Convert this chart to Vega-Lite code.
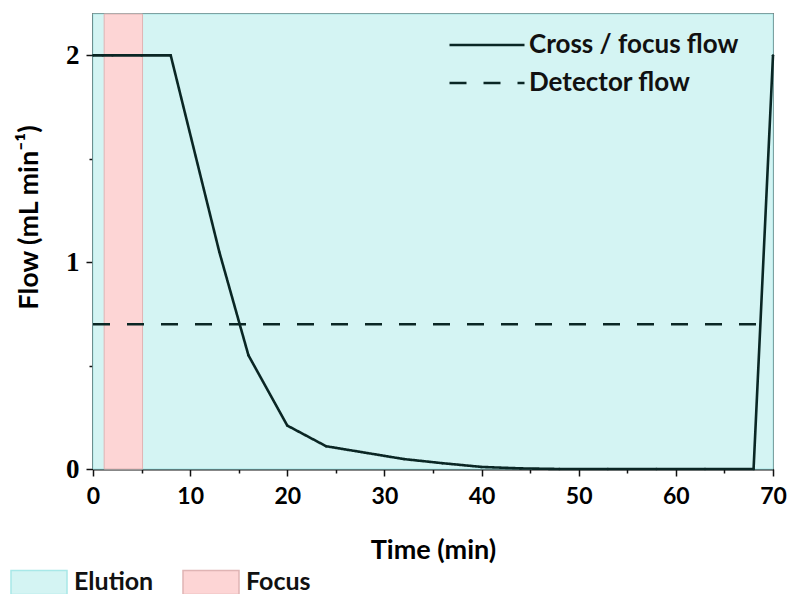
{
  "$schema": "https://vega.github.io/schema/vega-lite/v6.json",
  "width": 680,
  "height": 455,
  "autosize": {"type": "none"},
  "padding": {"left": 93, "top": 14, "right": 16, "bottom": 125},
  "background": "white",
  "config": {
    "view": {"stroke": "#1c2626", "strokeWidth": 1.5},
    "font": "Lato",
    "axis": {"grid": false, "domainColor": "#111111", "domainWidth": 2, "tickColor": "#111111", "tickWidth": 1.5, "labelColor": "#000000", "titleColor": "#000000"}
  },
  "datasets": {
    "regions": [
      {"region": "Elution", "start": 0, "end": 70},
      {"region": "Focus", "start": 1.15, "end": 5.1}
    ],
    "flow": [
      {"t": 0, "f": 2, "series": "Cross / focus flow"},
      {"t": 1, "f": 2, "series": "Cross / focus flow"},
      {"t": 2, "f": 2, "series": "Cross / focus flow"},
      {"t": 5, "f": 2, "series": "Cross / focus flow"},
      {"t": 8, "f": 2, "series": "Cross / focus flow"},
      {"t": 13, "f": 1.05, "series": "Cross / focus flow"},
      {"t": 16, "f": 0.55, "series": "Cross / focus flow"},
      {"t": 20, "f": 0.21, "series": "Cross / focus flow"},
      {"t": 24, "f": 0.11, "series": "Cross / focus flow"},
      {"t": 32, "f": 0.048, "series": "Cross / focus flow"},
      {"t": 36, "f": 0.028, "series": "Cross / focus flow"},
      {"t": 40, "f": 0.01, "series": "Cross / focus flow"},
      {"t": 44, "f": 0.003, "series": "Cross / focus flow"},
      {"t": 48, "f": 0, "series": "Cross / focus flow"},
      {"t": 53, "f": 0, "series": "Cross / focus flow"},
      {"t": 58, "f": 0, "series": "Cross / focus flow"},
      {"t": 63, "f": 0, "series": "Cross / focus flow"},
      {"t": 68, "f": 0, "series": "Cross / focus flow"},
      {"t": 70, "f": 2, "series": "Cross / focus flow"},
      {"t": 0, "f": 0.7, "series": "Detector flow"},
      {"t": 70, "f": 0.7, "series": "Detector flow"}
    ]
  },
  "layer": [
    {
      "data": {"name": "regions"},
      "mark": {"type": "rect", "strokeWidth": 1},
      "encoding": {
        "x": {"field": "start", "type": "quantitative", "scale": {"domain": [0, 70], "nice": false, "zero": false}, "axis": null},
        "x2": {"field": "end"},
        "fill": {
          "field": "region", "type": "nominal",
          "scale": {"domain": ["Elution", "Focus"], "range": ["#d4f4f3", "#fdd5d5"]},
          "legend": {"orient": "none", "direction": "horizontal", "legendX": -83, "legendY": 539, "title": null, "symbolType": "M-1,-0.43L1,-0.43L1,0.43L-1,0.43Z", "symbolSize": 3136, "symbolStrokeWidth": 1.5, "labelFont": "Lato", "labelFontSize": 25, "labelFontWeight": "bold", "labelColor": "#111111", "labelOffset": 6, "labelLimit": 400, "columnPadding": 26, "padding": 0, "symbolOpacity": 1}
        },
        "stroke": {
          "field": "region", "type": "nominal",
          "scale": {"domain": ["Elution", "Focus"], "range": ["#a8e8e8", "#e0b4b4"]},
          "legend": {"orient": "none", "direction": "horizontal", "legendX": -83, "legendY": 539, "title": null, "symbolType": "M-1,-0.43L1,-0.43L1,0.43L-1,0.43Z", "symbolSize": 3136, "symbolStrokeWidth": 1.5, "labelFont": "Lato", "labelFontSize": 25, "labelFontWeight": "bold", "labelColor": "#111111", "labelOffset": 6, "labelLimit": 400, "columnPadding": 26, "padding": 0, "symbolOpacity": 1}
        }
      }
    },
    {
      "data": {"name": "flow"},
      "mark": {"type": "line", "strokeWidth": 2.6, "color": "#0a2624"},
      "encoding": {
        "x": {"field": "t", "type": "quantitative", "scale": {"domain": [0, 70], "nice": false, "zero": false},
          "axis": {"orient": "bottom", "values": [0, 10, 20, 30, 40, 50, 60, 70], "tickSize": 7, "labelFont": "Lato", "labelFontSize": 23, "labelFontWeight": "bold", "labelPadding": 9, "labelFlush": false, "title": "Time (min)", "titleFont": "Lato", "titleFontSize": 27, "titleFontWeight": "bold", "titleBaseline": "alphabetic", "titleX": 340, "titleY": 89}},
        "y": {"field": "f", "type": "quantitative", "scale": {"domain": [0, 2.2], "nice": false},
          "axis": {"orient": "left", "values": [0, 1, 2], "tickSize": 7, "labelFont": "Liberation Serif", "labelFontSize": 27, "labelFontWeight": "bold", "labelPadding": 7, "labelFlush": false, "title": "Flow (mL min⁻¹)", "titleFont": "Lato", "titleFontSize": 27, "titleFontWeight": "bold", "titleAngle": 270, "titleBaseline": "alphabetic", "titleX": -56, "titleY": 203}},
        "strokeDash": {
          "field": "series", "type": "nominal",
          "scale": {"domain": ["Cross / focus flow", "Detector flow"], "range": [[1, 0], [17, 17]]},
          "legend": {"orient": "none", "legendX": 355, "legendY": 12, "title": null, "symbolType": "stroke", "symbolSize": 5625, "symbolStrokeWidth": 2.6, "symbolStrokeColor": "#0a2624", "labelFont": "Lato", "labelFontSize": 26, "labelFontWeight": "bold", "labelColor": "#111111", "labelOffset": 3, "labelLimit": 400, "clipHeight": 38, "rowPadding": 0, "padding": 0}
        }
      }
    },
    {
      "data": {"name": "flow"},
      "transform": [{"filter": "datum.series === 'Cross / focus flow'"}],
      "mark": {"type": "point", "filled": true, "size": 6, "color": "#0a2624", "opacity": 1},
      "encoding": {
        "x": {"field": "t", "type": "quantitative", "axis": {"orient": "bottom", "values": [5, 15, 25, 35, 45, 55, 65], "tickSize": 4, "labels": false, "domain": false, "title": null}},
        "y": {"field": "f", "type": "quantitative", "axis": {"orient": "left", "values": [0.5, 1.5], "tickSize": 4, "labels": false, "domain": false, "title": null}}
      }
    }
  ],
  "resolve": {"axis": {"x": "independent", "y": "independent"}}
}
